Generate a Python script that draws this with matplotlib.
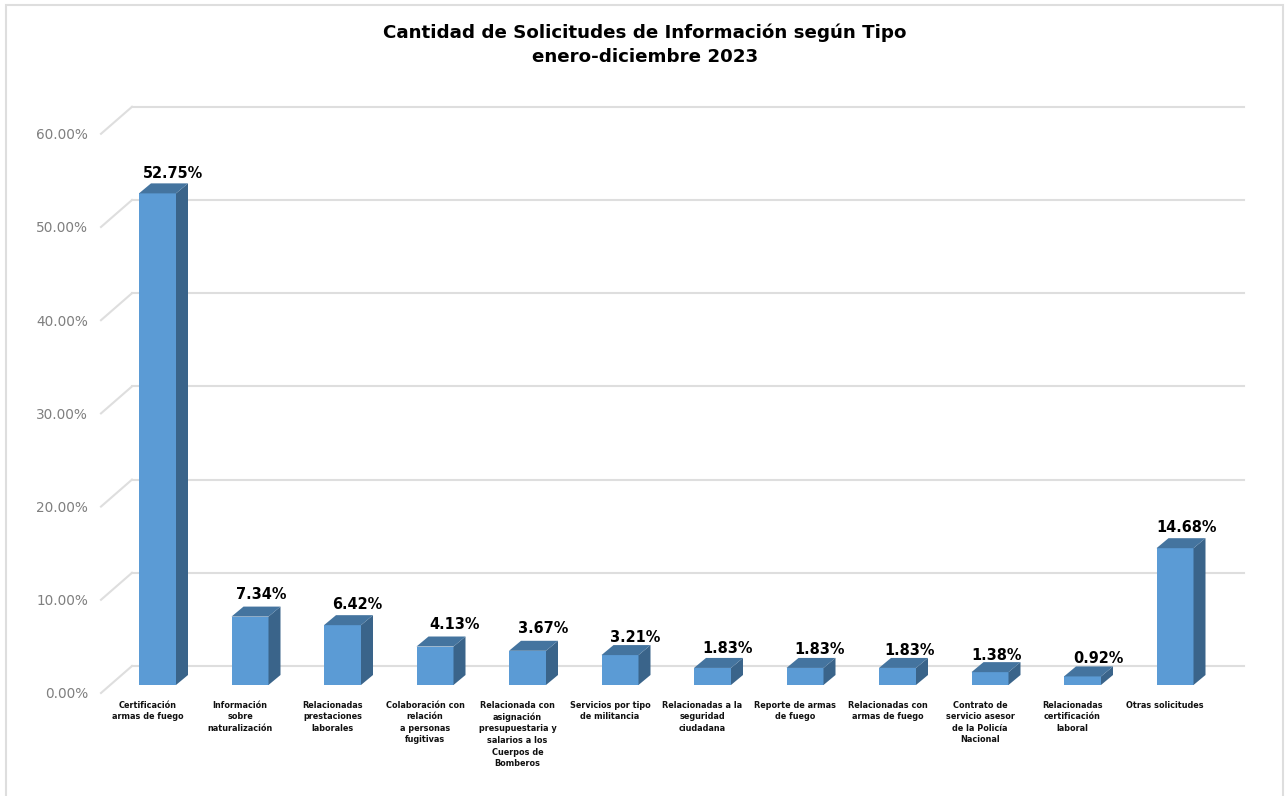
import matplotlib
matplotlib.use("Agg")
import matplotlib.pyplot as plt
from matplotlib.patches import Polygon, Rectangle
from matplotlib.transforms import Affine2D, IdentityTransform, blended_transform_factory

# ---- data ----
categories = [
    "Certificación\narmas de fuego",
    "Información\nsobre\nnaturalización",
    "Relacionadas\nprestaciones\nlaborales",
    "Colaboración con\nrelación\na personas\nfugitivas",
    "Relacionada con\nasignación\npresupuestaria y\nsalarios a los\nCuerpos de\nBomberos",
    "Servicios por tipo\nde militancia",
    "Relacionadas a la\nseguridad\nciudadana",
    "Reporte de armas\nde fuego",
    "Relacionadas con\narmas de fuego",
    "Contrato de\nservicio asesor\nde la Policía\nNacional",
    "Relacionadas\ncertificación\nlaboral",
    "Otras solicitudes",
]
values = [52.75, 7.34, 6.42, 4.13, 3.67, 3.21, 1.83, 1.83, 1.83, 1.38, 0.92, 14.68]
y_ticks = [0, 10, 20, 30, 40, 50, 60]
title_lines = "Cantidad de Solicitudes de Información según Tipo\nenero-diciembre 2023"

# ---- layout (pixels in a 1286x796 canvas, y from the top) ----
W, H = 1286, 796
DPI = 100
STEP_X = 92.5          # px per category
PX_PER_PCT = 9.32      # px per percentage point
FIRST_X = 157.5
BASE_Y = 685
BAR_W = 0.40           # in category units
DEPTH_X, DEPTH_Y = 12, 10   # bar depth in px
label_dx = [15.5, 11, 14.5, 19.5, 16, 15, 15.5, 14.5, 12, 7, 15.5, 12]
label_dy = [20, 22, 21, 22.5, 22, 18, 19, 18, 17, 17, 17.5, 21]

FRONT, SIDE, TOP = "#5b9bd5", "#3a648a", "#44749f"
GRID = "#dedede"

fig = plt.figure(figsize=(W / DPI, H / DPI), dpi=DPI, facecolor="white")
plt.rcParams["font.family"] = ["DejaVu Sans"]

ax_left = FIRST_X - STEP_X / 2
ax_right = ax_left + STEP_X * len(values)
ax_h = PX_PER_PCT * 60
ax = fig.add_axes([ax_left / W, (H - BASE_Y) / H, (ax_right - ax_left) / W, ax_h / H])
ax.set_xlim(-0.5, len(values) - 0.5)
ax.set_ylim(0, 60)
ax.patch.set_visible(False)
for s in ax.spines.values():
    s.set_visible(False)

# outer chart frame
fig.add_artist(Rectangle((6 / W, -0.02), (1283 - 6) / W, (H - 5) / H + 0.02,
                         transform=fig.transFigure, fill=False,
                         edgecolor=GRID, linewidth=1.5))

# walls: gridlines on the back wall plus the diagonal on the side wall
back = blended_transform_factory(IdentityTransform(), ax.transData + Affine2D().translate(0, 19))
for t in y_ticks:
    ax.plot([132, 1244], [t, t], color=GRID, lw=1.5, transform=back, clip_on=False, zorder=1)
    p0 = ax.transData.transform((0, t))[1] - 8
    p1 = ax.transData.transform((0, t))[1] + 19
    ax.plot([101, 132], [p0, p1], color=GRID, lw=1.5,
            transform=IdentityTransform(), clip_on=False, zorder=1)

# bars in pseudo 3D
dx = DEPTH_X / STEP_X
dy = DEPTH_Y / PX_PER_PCT
xs = list(range(len(values)))
ax.bar(xs, values, width=BAR_W, color=FRONT, zorder=3)
for x, v in zip(xs, values):
    l, r = x - BAR_W / 2, x + BAR_W / 2
    ax.add_patch(Polygon([(r, 0), (r + dx, dy), (r + dx, v + dy), (r, v)],
                         closed=True, facecolor=SIDE, edgecolor="none", zorder=3, clip_on=False))
    ax.add_patch(Polygon([(l, v), (r, v), (r + dx, v + dy), (l + dx, v + dy)],
                         closed=True, facecolor=TOP, edgecolor="none", zorder=3, clip_on=False))

# value labels
for x, v, ox, oy in zip(xs, values, label_dx, label_dy):
    ax.annotate(f"{v:.2f}%", xy=(x, v), xytext=(ox * 72 / DPI, oy * 72 / DPI),
                textcoords="offset points", ha="center", va="center",
                fontsize=10.45, fontweight="bold", color="black", zorder=5,
                annotation_clip=False)

# axes ticks
ax.set_yticks(y_ticks)
ax.set_yticklabels([f"{t:.2f}%" for t in y_ticks], fontsize=9.8, color="#7f7f7f")
ax.tick_params(axis="y", length=0, pad=(ax_left - 88) * 72 / DPI)
for lab in ax.get_yticklabels():
    lab.set_transform(lab.get_transform() + Affine2D().translate(0, -8))

ax.set_xticks(xs)
ax.set_xticklabels(categories, fontsize=5.9, fontweight="bold", color="#111111",
                   linespacing=1.37, ha="center", va="top")
ax.tick_params(axis="x", length=0, pad=15.5 * 72 / DPI)
for lab in ax.get_xticklabels():
    lab.set_transform(lab.get_transform() + Affine2D().translate(-10, 0))

fig.text(645 / W, 1 - 45 / H, title_lines, ha="center", va="center",
         fontsize=13.15, fontweight="bold", color="black", linespacing=1.42)

fig.savefig("out.png", dpi=DPI, facecolor="white")
